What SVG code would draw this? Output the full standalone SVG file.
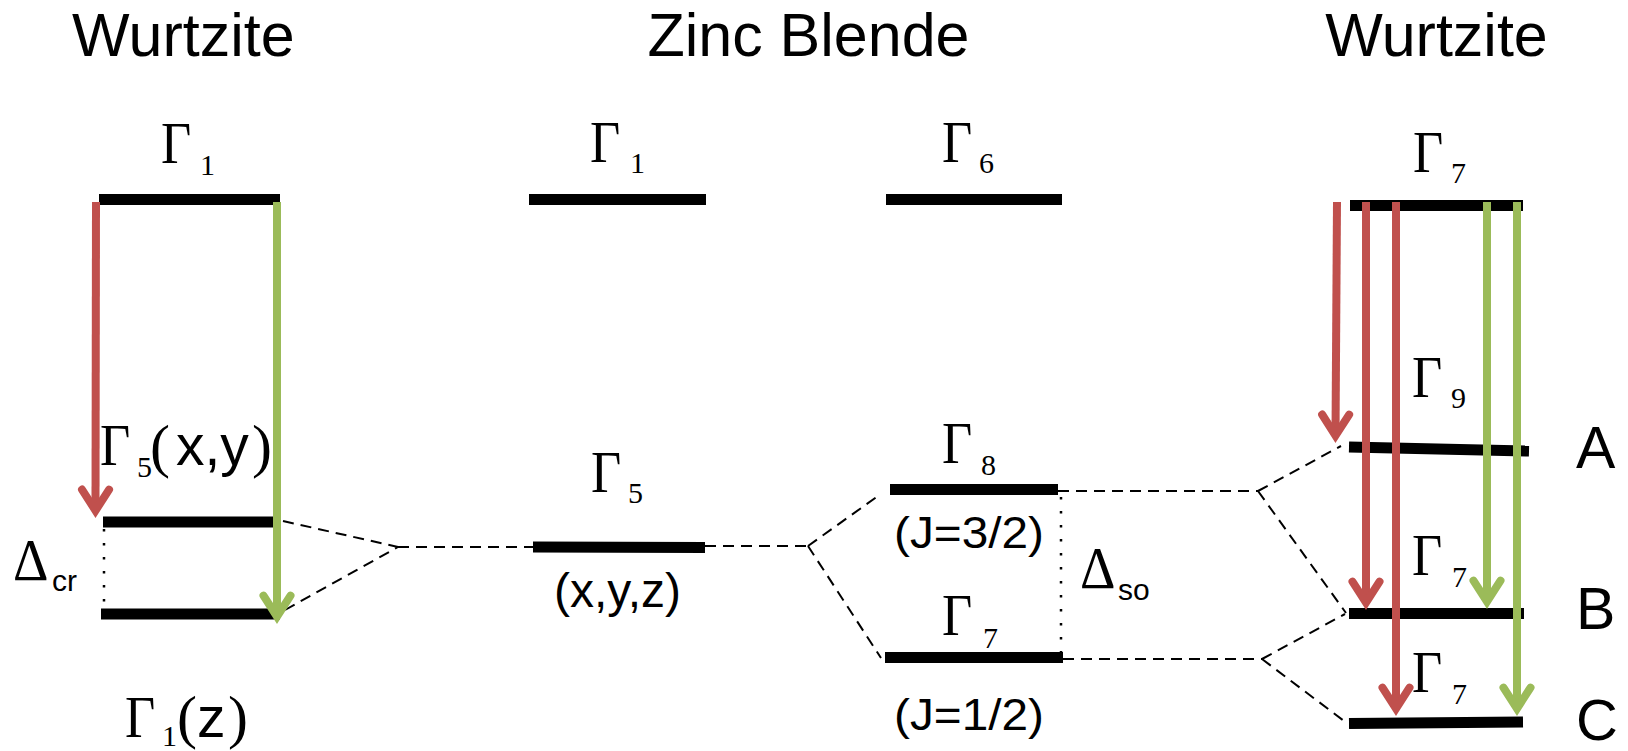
<svg xmlns="http://www.w3.org/2000/svg" width="1628" height="751" viewBox="0 0 1628 751">
<style>
.bar{stroke:#000;stroke-width:11;fill:none}
.dash{stroke:#000;stroke-width:2;stroke-dasharray:11 7;fill:none}
.dot{stroke:#000;stroke-width:2.5;stroke-dasharray:2.5 11.5;fill:none}
.red{stroke:#C0504D;stroke-width:8;fill:none}
.green{stroke:#9BBB59;stroke-width:8;fill:none}
.sans{font-family:"Liberation Sans",Arial,sans-serif;fill:#000}
.title{font-family:"Liberation Sans",Arial,sans-serif;font-size:61px;fill:#000}
.G{font-family:"Liberation Serif","Times New Roman",serif;font-size:60px;fill:#000}
.sub{font-family:"Liberation Serif","Times New Roman",serif;font-size:30px;fill:#000}
.par{font-family:"Liberation Serif","Times New Roman",serif;font-size:60px;fill:#000}
</style>
<defs>
<marker id="ahR" markerUnits="userSpaceOnUse" viewBox="-30 -25 40 50" refX="0" refY="0" markerWidth="40" markerHeight="50" orient="auto" overflow="visible">
<path d="M-21,-13.5 L0,0 L-21,13.5" fill="none" stroke="#C0504D" stroke-width="8" stroke-linecap="round" stroke-linejoin="miter"/>
</marker>
<marker id="ahG" markerUnits="userSpaceOnUse" viewBox="-30 -25 40 50" refX="0" refY="0" markerWidth="40" markerHeight="50" orient="auto" overflow="visible">
<path d="M-21,-13.5 L0,0 L-21,13.5" fill="none" stroke="#9BBB59" stroke-width="8" stroke-linecap="round" stroke-linejoin="miter"/>
</marker>
</defs>
<rect width="1628" height="751" fill="#fff"/>

<g id="titles">
<text class="title" x="72" y="56">Wurtzite</text>
<text class="title" x="808.5" y="56" text-anchor="middle">Zinc Blende</text>
<text class="title" x="1436.5" y="56" text-anchor="middle">Wurtzite</text>
</g>

<g id="connectors">
<line class="dash" x1="283" y1="521" x2="398" y2="547"/>
<line class="dash" x1="285" y1="610" x2="398" y2="547"/>
<line class="dash" x1="398" y1="547" x2="533" y2="547"/>
<line class="dash" x1="705" y1="546" x2="808" y2="546"/>
<line class="dash" x1="808" y1="546" x2="878" y2="496"/>
<line class="dash" x1="808" y1="546" x2="881" y2="658"/>
<line class="dash" x1="1058" y1="491" x2="1258" y2="491"/>
<line class="dash" x1="1258" y1="491" x2="1341" y2="446"/>
<line class="dash" x1="1258" y1="491" x2="1346" y2="613"/>
<line class="dash" x1="1063" y1="659" x2="1262" y2="659"/>
<line class="dash" x1="1262" y1="659" x2="1345" y2="614"/>
<line class="dash" x1="1262" y1="659" x2="1348" y2="724"/>
<line class="dot" x1="104" y1="529" x2="104" y2="604"/>
<line class="dot" x1="1061" y1="497" x2="1061" y2="652"/>
</g>

<g id="wz-left-G1">
<line class="bar" x1="99" y1="199.5" x2="280" y2="199.5"/>
<text class="G" transform="translate(161,163) scale(0.87,1)">Γ</text>
<text class="sub" x="200" y="175">1</text>
</g>
<g id="wz-left-G5">
<line class="bar" x1="103" y1="522" x2="276" y2="522"/>
<text class="G" transform="translate(100,465) scale(0.87,1)">Γ</text>
<text class="sub" x="137" y="477">5</text>
<text class="par" x="150" y="466">(</text>
<text class="sans" x="176" y="465" font-size="57">x,y</text>
<text class="par" x="252" y="466">)</text>
</g>
<g id="wz-left-G1z">
<line class="bar" x1="101" y1="614" x2="280" y2="614"/>
<text class="G" transform="translate(125,737) scale(0.87,1)">Γ</text>
<text class="sub" x="162" y="746">1</text>
<text class="par" x="177" y="737">(</text>
<text class="sans" x="197" y="737" font-size="57">z</text>
<text class="par" x="228" y="737">)</text>
</g>
<g id="delta-cr">
<text class="G" transform="translate(13,580) scale(0.92,1)">Δ</text>
<text class="sans" x="52" y="591" font-size="30">cr</text>
</g>

<g id="zb-G1">
<line class="bar" x1="529" y1="199.5" x2="706" y2="199.5"/>
<text class="G" transform="translate(590,162) scale(0.87,1)">Γ</text>
<text class="sub" x="630" y="173">1</text>
</g>
<g id="zb-G6">
<line class="bar" x1="886" y1="199.5" x2="1062" y2="199.5"/>
<text class="G" transform="translate(942,162) scale(0.87,1)">Γ</text>
<text class="sub" x="979" y="173">6</text>
</g>
<g id="zb-G5">
<line class="bar" x1="533" y1="547" x2="705" y2="547.5"/>
<text class="G" transform="translate(591,492) scale(0.87,1)">Γ</text>
<text class="sub" x="628" y="503">5</text>
<text class="sans" x="617.5" y="607" font-size="48" text-anchor="middle">(x,y,z)</text>
</g>
<g id="zb-G8">
<line class="bar" x1="890" y1="489.5" x2="1058" y2="489.5"/>
<text class="G" transform="translate(942,463) scale(0.87,1)">Γ</text>
<text class="sub" x="981" y="475">8</text>
<text class="sans" x="894" y="548" font-size="45" textLength="150" lengthAdjust="spacingAndGlyphs">(J=3/2)</text>
</g>
<g id="zb-G7">
<line class="bar" x1="885" y1="657.5" x2="1063" y2="657.5"/>
<text class="G" transform="translate(942,635) scale(0.87,1)">Γ</text>
<text class="sub" x="983" y="648">7</text>
<text class="sans" x="894" y="730" font-size="45" textLength="150" lengthAdjust="spacingAndGlyphs">(J=1/2)</text>
</g>
<g id="delta-so">
<text class="G" transform="translate(1080,588) scale(0.92,1)">Δ</text>
<text class="sans" x="1118" y="600" font-size="30">so</text>
</g>

<g id="wz-right-G7top">
<line class="bar" x1="1350" y1="205.5" x2="1523" y2="205.5"/>
<text class="G" transform="translate(1413,172) scale(0.87,1)">Γ</text>
<text class="sub" x="1451" y="183">7</text>
</g>
<g id="wz-right-A">
<line class="bar" x1="1349" y1="447" x2="1529" y2="451"/>
<text class="G" transform="translate(1412,397) scale(0.87,1)">Γ</text>
<text class="sub" x="1451" y="408">9</text>
<text class="sans" x="1576" y="468" font-size="59">A</text>
</g>
<g id="wz-right-B">
<line class="bar" x1="1349" y1="613.5" x2="1524" y2="613.5"/>
<text class="G" transform="translate(1412,575) scale(0.87,1)">Γ</text>
<text class="sub" x="1452" y="587">7</text>
<text class="sans" x="1576" y="629" font-size="59">B</text>
</g>
<g id="wz-right-C">
<line class="bar" x1="1349" y1="723.5" x2="1523" y2="722"/>
<text class="G" transform="translate(1412,692) scale(0.87,1)">Γ</text>
<text class="sub" x="1452" y="704">7</text>
<text class="sans" x="1576" y="740" font-size="58">C</text>
</g>

<g id="transitions">
<line class="red" x1="96" y1="202" x2="95.5" y2="510.6" marker-end="url(#ahR)"/>
<line class="green" x1="277" y1="202" x2="277" y2="616.6" marker-end="url(#ahG)"/>
<line class="red" x1="1337" y1="202" x2="1335.5" y2="435.6" marker-end="url(#ahR)"/>
<line class="red" x1="1366" y1="202" x2="1366" y2="602.6" marker-end="url(#ahR)"/>
<line class="red" x1="1396" y1="202" x2="1396" y2="708.6" marker-end="url(#ahR)"/>
<line class="green" x1="1487" y1="202" x2="1487" y2="601.6" marker-end="url(#ahG)"/>
<line class="green" x1="1517" y1="202" x2="1517" y2="708.6" marker-end="url(#ahG)"/>
</g>
</svg>
